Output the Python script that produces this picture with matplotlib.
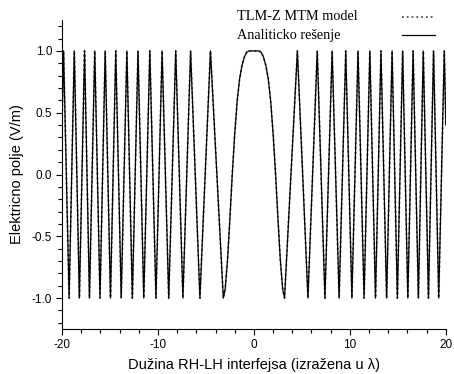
import matplotlib
matplotlib.use("Agg")
import matplotlib.pyplot as plt
from matplotlib.ticker import MultipleLocator

plt.rcParams['font.family'] = ['Liberation Sans', 'DejaVu Sans']
plt.rcParams['axes.unicode_minus'] = False

# extrema positions on the right half, mirrored for the left half
ext_x = [3.19, 4.53, 5.63, 6.60, 7.40, 8.15, 8.88, 9.57, 10.21, 10.85, 11.48, 12.08, 12.67,
         13.24, 13.83, 14.40, 14.95, 15.50, 16.04, 16.59, 17.14, 17.65, 18.19, 18.72, 19.26,
         19.84, 20.0]
ext_y = [-1, 1, -1, 1, -1, 1, -1, 1, -1, 1, -1, 1, -1,
         1, -1, 1, -1, 1, -1, 1, -1, 1, -1, 1, -1,
         1, 0.4]

# central lobe (right half incl. zero)
lobe_x = [0.0, 0.25, 0.5, 0.75, 1.0, 1.25, 1.5, 1.75, 2.0, 2.25, 2.5, 2.75, 3.0]
lobe_y = [1.0, 1.0, 1.0, 0.99, 0.95, 0.88, 0.77, 0.59, 0.33, 0.01, -0.35, -0.69, -0.93]

series_names = ['TLM-Z MTM model', 'Analiticko rešenje']

right_x = lobe_x + ext_x
right_y = lobe_y + ext_y
x = [-v for v in right_x[::-1]] + right_x[1:]
y = right_y[::-1] + right_y[1:]

fig = plt.figure(figsize=(4.54, 3.74), dpi=100)
ax = fig.add_axes([0.1366, 0.1203, 0.8454, 0.8262])

styles = [dict(color='#555555', linestyle=':', linewidth=1.3),
          dict(color='black', linestyle='-', linewidth=0.9)]
for st in styles:
    ax.plot(x, y, **st)

ax.set_xlim(-20, 20)
ax.set_ylim(-1.25, 1.25)
ax.xaxis.set_major_locator(MultipleLocator(10))
ax.xaxis.set_minor_locator(MultipleLocator(2))
ax.yaxis.set_major_locator(MultipleLocator(0.5))
ax.yaxis.set_minor_locator(MultipleLocator(0.1))
ax.tick_params(which='major', length=4, width=0.8, labelsize=8.5, direction='out', pad=3)
ax.tick_params(which='minor', length=3, width=0.8, direction='out')

for s in ['top', 'right']:
    ax.spines[s].set_visible(False)

ax.set_xlabel('Dužina RH-LH interfejsa (izražena u λ)', fontsize=10.5, labelpad=5)
ax.set_ylabel('Elektricno polje (V/m)', fontsize=10.5, labelpad=6)

# legend: text on the left, line sample on the right
leg_y = [1.01, 0.951]
for name, st, yy in zip(series_names, styles, leg_y):
    ax.text(0.456, yy, name, transform=ax.transAxes, fontsize=10.3,
            family='Liberation Serif', va='center', ha='left')
    ax.plot([0.885, 0.971], [yy, yy], transform=ax.transAxes, clip_on=False, **st)

fig.savefig('out.png', dpi=100)
